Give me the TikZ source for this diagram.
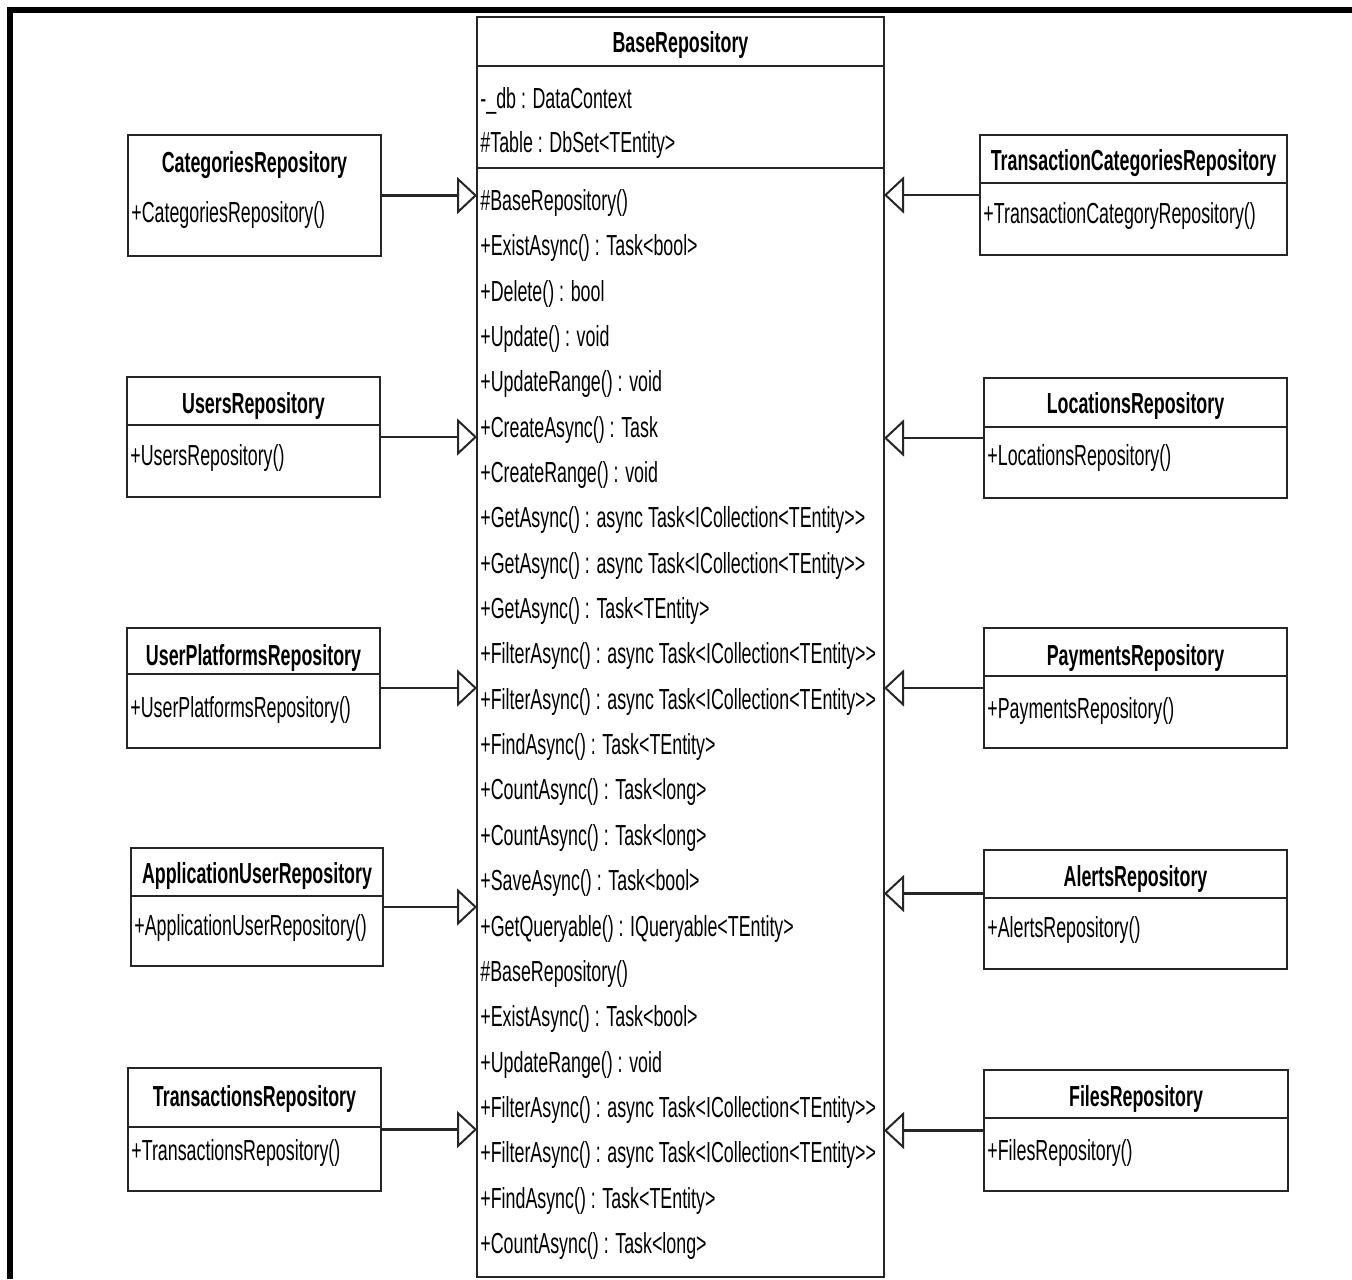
\documentclass[tikz,border=0pt]{standalone}
\usepackage{fontspec}
\setmainfont[FakeStretch=0.615]{Liberation Sans}
\usetikzlibrary{arrows.meta}
\tikzset{
  clsbox/.style={draw=black!85, line width=1pt, inner sep=0pt, outer sep=0pt},
  sepline/.style={draw=black!85, line width=1pt},
  ttl/.style={font=\fontsize{14.5}{17}\selectfont\bfseries, inner sep=0pt, text height=10.4pt, text depth=0pt, anchor=center},
  mem/.style={font=\fontsize{14.5}{17}\selectfont, inner sep=0pt, text height=10.4pt, text depth=0pt, anchor=west},
  gen/.style={draw=black!85, line width=1.2pt, -{Triangle[open, length=10pt, width=18.5pt, line width=1pt]}}
}
\newcommand{\umlbox}[5]{\node[clsbox, minimum width={(#4-#2)*0.5pt}, minimum height={(#5-#3)*0.5pt}] (#1) at ({(#2+#4)/2},{(#3+#5)/2}) {};}
\newcommand{\umlsep}[2]{\draw[sepline] (#1.west |- 0,#2) -- (#1.east |- 0,#2);}
\begin{document}
\begin{tikzpicture}[x=0.5pt, y=-0.5pt]
\useasboundingbox (0,0) rectangle (1352,1279);
\fill[white] (0,0) rectangle (1352,1279);
% frame
\draw[line width=3pt] (10,1279) -- (10,10) -- (1352,10);

% BaseRepository
\umlbox{base}{477}{17}{884}{1277}
\node[ttl] (base-t) at (680.5,42) {BaseRepository};
\umlsep{base}{66}
\node[mem] (base-a1) at (480,98) {-\_db : DataContext};
\node[mem] (base-a2) at (480,142) {\#Table : DbSet<TEntity>};
\umlsep{base}{168}
\foreach \t [count=\i] in {
 \#BaseRepository(),
 +ExistAsync() : Task<bool>,
 +Delete() : bool,
 +Update() : void,
 +UpdateRange() : void,
 +CreateAsync() : Task,
 +CreateRange() : void,
 +GetAsync() : async Task<ICollection<TEntity>{}>,
 +GetAsync() : async Task<ICollection<TEntity>{}>,
 +GetAsync() : Task<TEntity>,
 +FilterAsync() : async Task<ICollection<TEntity>{}>,
 +FilterAsync() : async Task<ICollection<TEntity>{}>,
 +FindAsync() : Task<TEntity>,
 +CountAsync() : Task<long>,
 +CountAsync() : Task<long>,
 +SaveAsync() : Task<bool>,
 +GetQueryable() : IQueryable<TEntity>,
 \#BaseRepository(),
 +ExistAsync() : Task<bool>,
 +UpdateRange() : void,
 +FilterAsync() : async Task<ICollection<TEntity>{}>,
 +FilterAsync() : async Task<ICollection<TEntity>{}>,
 +FindAsync() : Task<TEntity>,
 +CountAsync() : Task<long>} {
  \node[mem] (base-m\i) at (480,{200+(\i-1)*45.35}) {\t};
}

% left classes
\umlbox{cat}{128}{135}{381}{256}
\node[ttl] (cat-t) at (254.5,162) {CategoriesRepository};
\node[mem] (cat-m) at (131,212) {+CategoriesRepository()};

\umlbox{usr}{127}{377}{380}{497}
\node[ttl] (usr-t) at (253.5,403) {UsersRepository};
\umlsep{usr}{425}
\node[mem] (usr-m) at (130,455) {+UsersRepository()};

\umlbox{upl}{127}{628}{380}{748}
\node[ttl] (upl-t) at (253.5,655) {UserPlatformsRepository};
\umlsep{upl}{674}
\node[mem] (upl-m) at (130,707) {+UserPlatformsRepository()};

\umlbox{apu}{131}{848}{383}{966}
\node[ttl] (apu-t) at (257,873) {ApplicationUserRepository};
\umlsep{apu}{896}
\node[mem] (apu-m) at (134,925) {+ApplicationUserRepository()};

\umlbox{trn}{128}{1068}{381}{1191}
\node[ttl] (trn-t) at (254.5,1096) {TransactionsRepository};
\umlsep{trn}{1127}
\node[mem] (trn-m) at (131,1150) {+TransactionsRepository()};

% right classes
\umlbox{tcr}{980}{135}{1287}{255}
\node[ttl] (tcr-t) at (1133.5,160) {TransactionCategoriesRepository};
\umlsep{tcr}{183}
\node[mem] (tcr-m) at (983,213) {+TransactionCategoryRepository()};

\umlbox{loc}{984}{378}{1287}{498}
\node[ttl] (loc-t) at (1135.5,403) {LocationsRepository};
\umlsep{loc}{427}
\node[mem] (loc-m) at (987,455) {+LocationsRepository()};

\umlbox{pay}{984}{628}{1287}{748}
\node[ttl] (pay-t) at (1135.5,655) {PaymentsRepository};
\umlsep{pay}{676}
\node[mem] (pay-m) at (987,708) {+PaymentsRepository()};

\umlbox{alr}{984}{850}{1287}{969}
\node[ttl] (alr-t) at (1135.5,876) {AlertsRepository};
\umlsep{alr}{898}
\node[mem] (alr-m) at (987,927) {+AlertsRepository()};

\umlbox{fil}{984}{1070}{1288}{1191}
\node[ttl] (fil-t) at (1136,1096) {FilesRepository};
\umlsep{fil}{1118}
\node[mem] (fil-m) at (987,1150) {+FilesRepository()};

% generalisations
\draw[gen] (cat.east) -- (cat.east -| base.west);
\draw[gen] (usr.east) -- (usr.east -| base.west);
\draw[gen] (upl.east) -- (upl.east -| base.west);
\draw[gen] (apu.east) -- (apu.east -| base.west);
\draw[gen] (trn.east) -- (trn.east -| base.west);
\draw[gen] (tcr.west) -- (tcr.west -| base.east);
\draw[gen] (loc.west) -- (loc.west -| base.east);
\draw[gen] (pay.west) -- (pay.west -| base.east);
\coordinate (alr-c) at ([yshift=8pt]alr.west);
\draw[gen] (alr-c) -- (alr-c -| base.east);
\draw[gen] (fil.west) -- (fil.west -| base.east);
\end{tikzpicture}
\end{document}
